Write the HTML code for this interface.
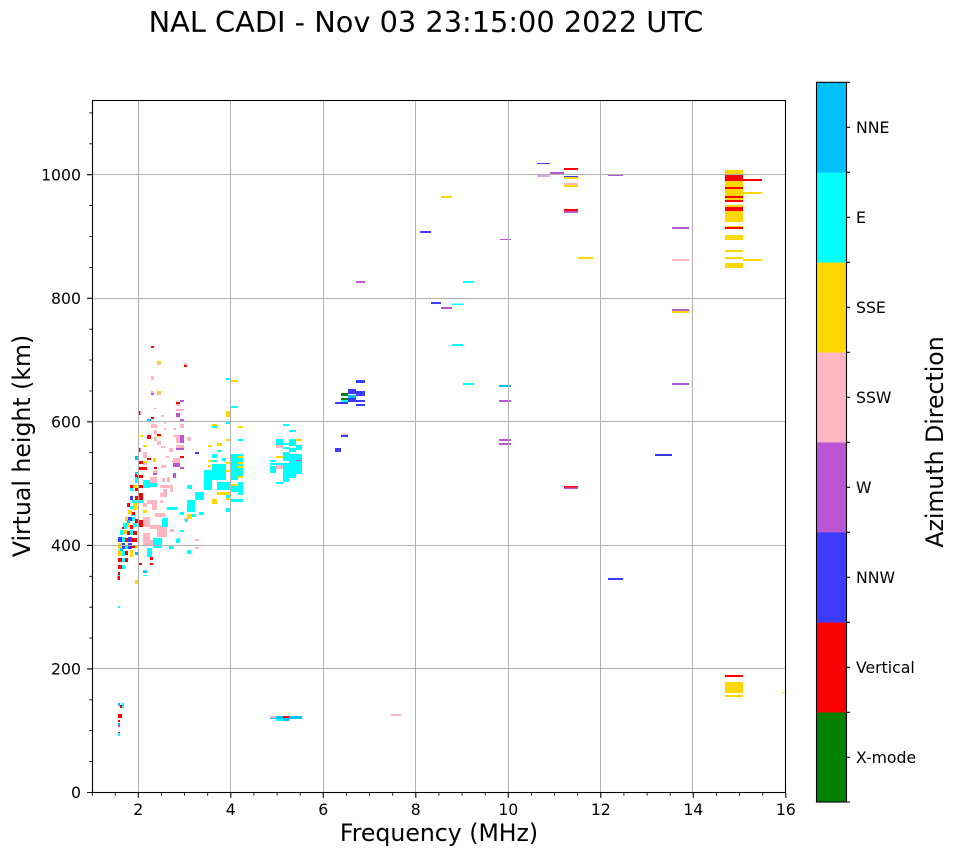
<!DOCTYPE html>
<html><head><meta charset="utf-8"><style>
html,body{margin:0;padding:0;background:#fff;}
svg{display:block;font-family:"DejaVu Sans","Liberation Sans",sans-serif;}
</style></head><body>
<svg width="958" height="857" viewBox="0 0 958 857" xmlns="http://www.w3.org/2000/svg">
<rect x="0" y="0" width="958" height="857" fill="#fff"/>
<text x="426" y="32" font-size="28.8" text-anchor="middle" fill="#000">NAL CADI - Nov 03 23:15:00 2022 UTC</text>

<!-- data -->
<g shape-rendering="crispEdges">
<path fill="#ffb6c1" d="M672 259h17v2h-17z M564 183h14v2h-14z M341 433.5h7v1.5h-7z M270 716h6v2h-6z M391 714h10v2h-10z M157 363h4v2h-4z M184 363h3v2h-3z M151 376h3v4h-3z M151 391h3v2h-3z M157 393h4v2h-4z M176 404h4v2h-4z M154 408h3v1h-3z M176 409h8v2h-8z M161 415h3v2h-3z M164 422h2v2h-2z M151 424h6v4h-6z M180 424h4v4h-4z M164 428h2v2h-2z M173 428h3v2h-3z M154 430h3v5h-3z M173 435h3v2h-3z M176 435h4v8h-4z M154 437h3v4h-3z M187 437h4v4h-4z M157 441h4v4h-4z M161 446h4v2h-4z M176 445h8v3h-8z M169 448h4v4h-4z M143 452h4v6h-4z M166 456h3v2h-3z M173 458h7v5h-7z M161 465h5v3h-5z M143 463h4v2h-4z M153 470h5v3h-5z M162 465h3v3h-3z M172 460h5v3h-5z M150 477h7v6h-7z M162 478h3v4h-3z M167 477h3v5h-3z M160 485h13v3h-13z M163 489h4v4h-4z M170 488h3v4h-3z M160 493h7v4h-7z M147 500h10v4h-10z M152 504h5v6h-5z M143 503h4v4h-4z M160 500h3v3h-3z M155 513h10v4h-10z M143 517h7v10h-7z M150 525h17v4h-17z M157 529h10v8h-10z M170 529h4v3h-4z M143 533h7v7h-7z M143 540h10v5h-10z M195 539h4v2h-4z M195 547h4v2h-4z M184 518h3v3h-3z M276 445h7v3h-7z M276 465h7v4h-7z M180 445h4v3h-4z M205 488h4v2h-4z"/>
<path fill="#00ffff" d="M463 281h11v2h-11z M452 303.5h11v1.5h-11z M452 344h11v2h-11z M463 383h11v2h-11z M341 400h7v2h-7z M276 719h13v2h-13z M122 703h2v5h-2z M120 717h2v1h-2z M118 733h2v3h-2z M118 606h2v2h-2z M143 575h4v1h-4z M725 265.5h18v1h-18z M226 378h4v2h-4z M230 406h8v2h-8z M226 422h4v2h-4z M212 426h5v2h-5z M238 439h5v2h-5z M217 450h5v2h-5z M212 454h5v4h-5z M222 458h4v3h-4z M230 454h13v4h-13z M212 460h5v2h-5z M212 464h14v16h-14z M204 470h8v20h-8z M230 458h8v22h-8z M238 458h5v18h-5z M238 482h5v13h-5z M230 486h8v6h-8z M217 482h13v8h-13z M226 495h4v3h-4z M226 508h4v4h-4z M230 499h13v3h-13z M195 492h9v8h-9z M187 500h8v12h-8z M187 485h5v4h-5z M199 512h5v3h-5z M192 514h4v3h-4z M180 512h4v3h-4z M185 519h3v3h-3z M180 530h4v2h-4z M176 539h4v4h-4z M169 545h4v4h-4z M187 550h4v4h-4z M153 538h9v10h-9z M147 548h5v9h-5z M177 538h3v5h-3z M143 570h4v2h-4z M150 483h7v4h-7z M167 507h10v3h-10z M162 518h6v9h-6z M143 480h7v8h-7z M135 472h3v2h-3z M135 477h3v6h-3z M130 488h3v3h-3z M132 500h5v3h-5z M139 500h4v3h-4z M130 506h3v3h-3z M131 514h4v2h-4z M132 517h3v4h-3z M123 523h4v6h-4z M133 523h4v4h-4z M120 530h3v5h-3z M130 530h3v5h-3z M122 537h3v5h-3z M125 545h3v4h-3z M122 551h3v5h-3z M122 558h3v4h-3z M122 565h3v4h-3z M117 575h3v5h-3z M283 424h6v2h-6z M289 430h7v2h-7z M276 439h7v6h-7z M289 439h7v7h-7z M283 443h6v2h-6z M283 447h6v2h-6z M289 448h7v4h-7z M296 445h6v5h-6z M270 460h6v2h-6z M270 463h32v2h-32z M283 452h6v9h-6z M289 454h13v9h-13z M270 466h6v7h-6z M283 465h13v9h-13z M296 465h6v9h-6z M283 474h6v8h-6z M289 474h7v4h-7z M276 482h7v2h-7z"/>
<path fill="#ffd700" d="M441 196h11v2h-11z M564 177h14v2h-14z M564 185h14v2h-14z M578 257h15v2h-15z M672 311h17v2h-17z M725 170h18v5h-18z M725 181h18v6h-18z M725 189h18v7h-18z M725 198h18v2h-18z M725 205h18v2h-18z M725 211h18v11h-18z M725 226h18v1h-18z M725 235h18v5h-18z M725 250h18v2h-18z M725 257h18v2h-18z M725 263h18v5h-18z M743 192h19v2h-19z M743 259h19v2h-19z M725 682h18v11h-18z M725 695h18v2h-18z M782 692h3v1h-3z M157 361h4v2h-4z M157 391h4v2h-4z M230 380h8v2h-8z M226 411h4v6h-4z M212 424h5v2h-5z M238 426h5v2h-5z M226 439h4v2h-4z M217 443h5v3h-5z M208 445h4v2h-4z M140 435h3v2h-3z M143 445h4v2h-4z M153 458h3v4h-3z M157 436h4v1h-4z M238 456h5v2h-5z M208 460h4v2h-4z M226 462h4v2h-4z M208 465h3v2h-3z M226 470h4v2h-4z M238 462h5v2h-5z M238 466h5v2h-5z M238 476h5v2h-5z M230 484h8v2h-8z M217 492h13v3h-13z M212 499h5v5h-5z M226 498h4v2h-4z M187 514h5v5h-5z M133 485h4v3h-4z M133 503h4v7h-4z M128 510h4v4h-4z M125 517h3v4h-3z M127 523h3v4h-3z M123 530h4v4h-4z M118 543h4v6h-4z M135 545h3v3h-3z M118 550h4v6h-4z M130 550h3v7h-3z M135 580h3v4h-3z M143 461h4v2h-4z M143 510h4v3h-4z M296 439h6v2h-6z M276 456h7v2h-7z"/>
<path fill="#3c3cff" d="M537 163h13v1h-13z M564 176h14v1h-14z M431 302h10v2h-10z M420 231h11v2h-11z M356 380h9v3h-9z M348 389h8v5h-8z M356 391h9v5h-9z M348 398h8v4h-8z M356 400h9v2h-9z M335 402h13v2h-13z M356 404h9v2h-9z M341 435h7v2h-7z M335 448h6v4h-6z M655 454h17v2h-17z M608 578h15v2h-15z M195 452h4v2h-4z M130 496h3v4h-3z M128 517h4v4h-4z M118 537h4v5h-4z M128 537h4v5h-4z M122 543h3v6h-3z M128 543h4v6h-4z"/>
<path fill="#00bfff" d="M499 385h12v2h-12z M348 395h8v3h-8z M270 718h6v1h-6z M276 716h7v3h-7z M283 718h6v3h-6z M289 716h13v3h-13z M118 703h2v3h-2z M118 723h2v2h-2z M143 571h4v2h-4z M147 419h4v2h-4z M135 456h4v4h-4z M127 520h3v3h-3z M120 548h3v3h-3z M135 552h3v3h-3z M135 472h3v1h-3z"/>
<path fill="#ba55d3" d="M356 281h9v2h-9z M441 307h11v2h-11z M499 400h12v2h-12z M499 439h12v2h-12z M499 443h12v2h-12z M500 239h11v1h-11z M550 172h14v2h-14z M537 175.7h13v1h-13z M564 211h14v2h-14z M608 174.7h15v1.3h-15z M672 227h17v2h-17z M672 309h17v2h-17z M672 383h17v2h-17z M564 487.3h14v1.7h-14z M725 174h18v1h-18z M118 725h2v2h-2z M151 393h3v2h-3z M180 400h4v2h-4z M176 413h4v4h-4z M180 419h4v2h-4z M180 435h4v8h-4z M176 448h8v2h-8z M176 463h4v4h-4z M180 467h4v2h-4z M173 463h3v4h-3z M173 473h3v5h-3z M153 473h4v2h-4z M296 460h6v1h-6z"/>
<path fill="#008000" d="M341 393h7v3h-7z M341 398h7v2h-7z"/>
<path fill="#ff0000" d="M564 168h14v2h-14z M564 209h14v2h-14z M564 486h14v1.5h-14z M725 175h18v6h-18z M725 187h18v2h-18z M725 196h18v2h-18z M725 200h18v2h-18z M725 207h18v4h-18z M725 227h18v2h-18z M743 179h19v2h-19z M725 675h18v2h-18z M283 716h6v2h-6z M118 714h4v4h-4z M118 720h2v2h-2z M120 705h2v3h-2z M118 576h2v4h-2z M118 732h2v1h-2z M151 346h3v2h-3z M184 365h3v2h-3z M176 402h4v2h-4z M139 411h1.5v4h-1.5z M151 417h3v2h-3z M147 435h4v4h-4z M157 434h4v2h-4z M180 456h4v2h-4z M139 448h1.5v4h-1.5z M147 458h4v2h-4z M139 467h8v3h-8z M154 467h3v2h-3z M139 461h4v3h-4z M137 475h6v3h-6z M135 474h2v3h-2z M130 485h3v3h-3z M139 485h4v3h-4z M135 488h3v3h-3z M135 496h3v4h-3z M139 496h4v4h-4z M127 503h3v4h-3z M132 512h3v3h-3z M135 519h3v4h-3z M130 525h3v4h-3z M127 531h3v4h-3z M133 531h4v4h-4z M125 538h3v4h-3z M132 538h5v4h-5z M132 545h3v3h-3z M125 551h3v4h-3z M118 558h4v4h-4z M125 558h3v4h-3z M118 565h4v4h-4z M118 572h2v3h-2z M139 520h4v7h-4z M150 557h3v3h-3z M150 563h3v2h-3z M139 563h3v2h-3z M139 493h4v3h-4z M122 527h2v2h-2z"/>
</g>

<!-- grid -->
<path stroke="#b0b0b0" stroke-width="1" fill="none" shape-rendering="crispEdges" d="M138.5 100V793 M230.5 100V793 M323.5 100V793 M415.5 100V793 M508.5 100V793 M600.5 100V793 M692.5 100V793 M92 174.5H786 M92 298.5H786 M92 421.5H786 M92 545.5H786 M92 668.5H786"/>

<!-- axes frame -->
<rect x="92.5" y="100.5" width="693" height="692" fill="none" stroke="#000" stroke-width="1.1"/>

<!-- x ticks -->
<path stroke="#000" stroke-width="1.1" d="M138.3 793v4.9 M230.8 793v4.9 M323.3 793v4.9 M415.8 793v4.9 M508.3 793v4.9 M600.8 793v4.9 M693.3 793v4.9 M785.8 793v4.9"/>
<path stroke="#000" stroke-width="0.85" d="M92.3 793v2.8 M115.2 793v2.8 M161.4 793v2.8 M184.6 793v2.8 M207.7 793v2.8 M253.9 793v2.8 M277.1 793v2.8 M300.2 793v2.8 M346.4 793v2.8 M369.6 793v2.8 M392.7 793v2.8 M438.9 793v2.8 M462.1 793v2.8 M485.2 793v2.8 M531.4 793v2.8 M554.6 793v2.8 M577.7 793v2.8 M623.9 793v2.8 M647.1 793v2.8 M670.2 793v2.8 M716.4 793v2.8 M739.6 793v2.8 M762.7 793v2.8"/>
<g font-size="15.7" text-anchor="middle" fill="#000">
<text x="138.3" y="815">2</text><text x="230.8" y="815">4</text><text x="323.3" y="815">6</text><text x="415.8" y="815">8</text><text x="508.3" y="815">10</text><text x="600.8" y="815">12</text><text x="693.3" y="815">14</text><text x="785.8" y="815">16</text>
</g>

<!-- y ticks -->
<path stroke="#000" stroke-width="1.1" d="M92 792.5h-4.9 M92 668.9h-4.9 M92 545.4h-4.9 M92 421.8h-4.9 M92 298.3h-4.9 M92 174.7h-4.9"/>
<path stroke="#000" stroke-width="0.85" d="M92 761.6h-2.8 M92 730.7h-2.8 M92 699.8h-2.8 M92 638.1h-2.8 M92 607.2h-2.8 M92 576.3h-2.8 M92 514.5h-2.8 M92 483.6h-2.8 M92 452.7h-2.8 M92 391h-2.8 M92 360h-2.8 M92 329.2h-2.8 M92 267.4h-2.8 M92 236.5h-2.8 M92 205.6h-2.8 M92 143.8h-2.8 M92 112.9h-2.8"/>
<g font-size="15.7" text-anchor="end" fill="#000">
<text x="81" y="798.2">0</text><text x="81" y="674.6">200</text><text x="81" y="551.1">400</text><text x="81" y="427.5">600</text><text x="81" y="304">800</text><text x="81" y="180.4">1000</text>
</g>

<text x="439" y="841" font-size="23.6" text-anchor="middle" fill="#000">Frequency (MHz)</text>
<text transform="translate(30,446) rotate(-90)" font-size="23.6" text-anchor="middle" fill="#000">Virtual height (km)</text>

<!-- colorbar -->
<g shape-rendering="crispEdges">
<rect x="816.5" y="82.3" width="30" height="90" fill="#00bfff"/>
<rect x="816.5" y="172.3" width="30" height="90" fill="#00ffff"/>
<rect x="816.5" y="262.3" width="30" height="90" fill="#ffd700"/>
<rect x="816.5" y="352.3" width="30" height="90" fill="#ffb6c1"/>
<rect x="816.5" y="442.3" width="30" height="90" fill="#ba55d3"/>
<rect x="816.5" y="532.3" width="30" height="90" fill="#3c3cff"/>
<rect x="816.5" y="622.3" width="30" height="90" fill="#ff0000"/>
<rect x="816.5" y="712.3" width="30" height="90" fill="#008000"/>
</g>
<rect x="816.5" y="82.3" width="30" height="719.7" fill="none" stroke="#000" stroke-width="1.1"/>
<path stroke="#000" stroke-width="1.1" d="M846.5 82.3h3.5 M846.5 127.3h3.5 M846.5 172.3h3.5 M846.5 217.3h3.5 M846.5 262.3h3.5 M846.5 307.3h3.5 M846.5 352.3h3.5 M846.5 397.3h3.5 M846.5 442.3h3.5 M846.5 487.3h3.5 M846.5 532.3h3.5 M846.5 577.3h3.5 M846.5 622.3h3.5 M846.5 667.3h3.5 M846.5 712.3h3.5 M846.5 757.3h3.5 M846.5 802h3.5"/>
<g font-size="15.7" fill="#000">
<text x="856" y="133">NNE</text><text x="856" y="223">E</text><text x="856" y="313">SSE</text><text x="856" y="403">SSW</text><text x="856" y="493">W</text><text x="856" y="583">NNW</text><text x="856" y="673">Vertical</text><text x="856" y="763">X-mode</text>
</g>
<text transform="translate(943,442) rotate(-90)" font-size="23.6" text-anchor="middle" fill="#000">Azimuth Direction</text>
</svg>
</body></html>
